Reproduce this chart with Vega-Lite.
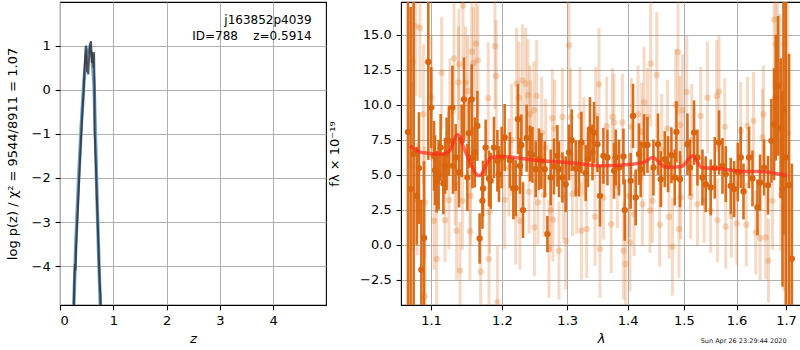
{
  "$schema": "https://vega.github.io/schema/vega-lite/v6.json",
  "background": "white",
  "padding": {"left": 5, "top": 1, "right": 0, "bottom": 0},
  "spacing": 1,
  "config": {
    "font": "DejaVu Sans",
    "view": {"stroke": "black", "strokeWidth": 1.1},
    "axis": {
      "labelFont": "DejaVu Sans", "titleFont": "DejaVu Sans",
      "labelFontSize": 13, "titleFontSize": 13,
      "labelColor": "black", "titleColor": "black", "titleFontWeight": "normal",
      "grid": true, "gridColor": "#b0b0b0", "gridWidth": 1,
      "domain": false, "tickColor": "black", "tickSize": 4.9, "tickWidth": 1.1,
      "labelPadding": 4.9
    }
  },
  "datasets": {
    "pz_blue": [
      {"z": 0.25, "v": -5.2}, {"z": 0.30, "v": -3.4}, {"z": 0.35, "v": -2.0}, {"z": 0.40, "v": -0.8},
      {"z": 0.45, "v": 0.2}, {"z": 0.50, "v": 0.8}, {"z": 0.55, "v": 0.95}, {"z": 0.60, "v": 0.75},
      {"z": 0.64, "v": 0.1}, {"z": 0.67, "v": -1.3}, {"z": 0.70, "v": -2.7}, {"z": 0.73, "v": -3.9}, {"z": 0.765, "v": -5.2}
    ],
    "pz_dark": [
      {"z": 0.255, "v": -5.2}, {"z": 0.27, "v": -4.3}, {"z": 0.28, "v": -3.95}, {"z": 0.29, "v": -4.1},
      {"z": 0.30, "v": -3.6}, {"z": 0.33, "v": -2.8}, {"z": 0.36, "v": -2.0}, {"z": 0.39, "v": -1.2},
      {"z": 0.42, "v": -0.5}, {"z": 0.445, "v": 0.0}, {"z": 0.46, "v": 0.5}, {"z": 0.48, "v": 0.95},
      {"z": 0.49, "v": 1.0}, {"z": 0.50, "v": 0.7}, {"z": 0.51, "v": 0.4}, {"z": 0.52, "v": 0.5},
      {"z": 0.53, "v": 0.35}, {"z": 0.54, "v": 0.6}, {"z": 0.555, "v": 0.9}, {"z": 0.57, "v": 1.05},
      {"z": 0.58, "v": 1.1}, {"z": 0.59, "v": 0.9}, {"z": 0.60, "v": 0.6}, {"z": 0.61, "v": 0.85},
      {"z": 0.62, "v": 0.8}, {"z": 0.63, "v": 0.5}, {"z": 0.64, "v": 0.85}, {"z": 0.645, "v": 0.3},
      {"z": 0.65, "v": -0.9}, {"z": 0.67, "v": -1.6}, {"z": 0.69, "v": -2.4}, {"z": 0.71, "v": -3.1},
      {"z": 0.73, "v": -3.9}, {"z": 0.745, "v": -4.4}, {"z": 0.755, "v": -4.6}, {"z": 0.77, "v": -5.2}
    ],
    "labels_left": [
      {"z": 4.72, "v": 1.575, "t": "j163852p4039"},
      {"z": 4.72, "v": 1.21, "t": "ID=788\u00a0\u00a0\u00a0\u00a0z=0.5914"}
    ],
    "stamp": [
      {"l": 1.614, "f": -6.9, "t": "Sun Apr 26 23:29:44 2020"}
    ],
    "model": [
      {"l": 1.0720, "f": 7.07}, {"l": 1.0875, "f": 6.6}, {"l": 1.1145, "f": 6.48}, {"l": 1.1250, "f": 6.7},
      {"l": 1.1362, "f": 7.86}, {"l": 1.1480, "f": 6.6}, {"l": 1.1667, "f": 4.93}, {"l": 1.1850, "f": 6.24},
      {"l": 1.1996, "f": 6.31}, {"l": 1.2496, "f": 6.05}, {"l": 1.3019, "f": 5.88}, {"l": 1.3561, "f": 5.64},
      {"l": 1.4069, "f": 5.76}, {"l": 1.4273, "f": 5.88}, {"l": 1.4431, "f": 6.24}, {"l": 1.4686, "f": 5.52},
      {"l": 1.4959, "f": 5.6}, {"l": 1.5162, "f": 6.36}, {"l": 1.5330, "f": 5.52}, {"l": 1.5774, "f": 5.4},
      {"l": 1.6101, "f": 5.24}, {"l": 1.6434, "f": 5.24}, {"l": 1.7015, "f": 4.93}
    ],
    "dark": [
      {"l": 1.0694, "f": 8.07, "e": 14}, {"l": 1.0729, "f": 4.0, "e": 13}, {"l": 1.0769, "f": 6.5, "e": 12},
      {"l": 1.0809, "f": 3.5, "e": 3.5}, {"l": 1.0839, "f": 5.48, "e": 4}, {"l": 1.0871, "f": -1.79, "e": 5},
      {"l": 1.0906, "f": 0.48, "e": 5.5}, {"l": 1.0964, "f": 13.07, "e": 7}, {"l": 1.1004, "f": 9.81, "e": 2.9},
      {"l": 1.1041, "f": 6.36, "e": 2.5}, {"l": 1.1055, "f": 5.33, "e": 2.5}, {"l": 1.1077, "f": 4.5, "e": 2.2},
      {"l": 1.1104, "f": 5.0, "e": 2.5}, {"l": 1.1131, "f": 6.95, "e": 2.4}, {"l": 1.1168, "f": 4.38, "e": 2.2},
      {"l": 1.1190, "f": 5.64, "e": 2.0}, {"l": 1.1213, "f": 6.5, "e": 2.6}, {"l": 1.1245, "f": 7.43, "e": 2.5},
      {"l": 1.1293, "f": 9.81, "e": 3.0}, {"l": 1.1301, "f": 5.64, "e": 2.0}, {"l": 1.1338, "f": 6.24, "e": 2.4},
      {"l": 1.1384, "f": 5.17, "e": 2.5}, {"l": 1.1422, "f": 7.43, "e": 2.6}, {"l": 1.1454, "f": 10.4, "e": 3.0},
      {"l": 1.1502, "f": 4.81, "e": 2.4}, {"l": 1.1524, "f": 7.98, "e": 2.5}, {"l": 1.1563, "f": 10.4, "e": 2.5},
      {"l": 1.1573, "f": 6.24, "e": 2.2}, {"l": 1.1606, "f": 6.6, "e": 2.5}, {"l": 1.1644, "f": 8.5, "e": 2.5},
      {"l": 1.1676, "f": 0.45, "e": 1.8}, {"l": 1.1716, "f": 3.14, "e": 2.0}, {"l": 1.1725, "f": 4.02, "e": 2.0},
      {"l": 1.1763, "f": 6.95, "e": 2.0}, {"l": 1.1811, "f": 4.74, "e": 2.0}, {"l": 1.1835, "f": 4.57, "e": 2.0},
      {"l": 1.1883, "f": 6.95, "e": 2.2}, {"l": 1.1933, "f": 6.0, "e": 2.2}, {"l": 1.1956, "f": 5.05, "e": 2.0},
      {"l": 1.1996, "f": 6.24, "e": 2.2}, {"l": 1.2040, "f": 7.67, "e": 2.4}, {"l": 1.2118, "f": 6.05, "e": 2.0},
      {"l": 1.2169, "f": 4.02, "e": 2.2}, {"l": 1.2204, "f": 4.05, "e": 2.0}, {"l": 1.2238, "f": 8.98, "e": 2.5},
      {"l": 1.2268, "f": 5.64, "e": 2.0}, {"l": 1.2289, "f": 7.12, "e": 2.2}, {"l": 1.2314, "f": 2.48, "e": 2.0},
      {"l": 1.2369, "f": 7.62, "e": 2.4}, {"l": 1.2419, "f": 6.52, "e": 2.0}, {"l": 1.2457, "f": 6.43, "e": 2.0},
      {"l": 1.2507, "f": 5.4, "e": 2.0}, {"l": 1.2557, "f": 6.12, "e": 2.2}, {"l": 1.2594, "f": 6.0, "e": 2.0},
      {"l": 1.2646, "f": 5.4, "e": 2.0}, {"l": 1.2688, "f": 0.76, "e": 1.3}, {"l": 1.2739, "f": 4.81, "e": 2.0},
      {"l": 1.2791, "f": 5.6, "e": 2.0}, {"l": 1.2844, "f": 6.36, "e": 2.2}, {"l": 1.2869, "f": 5.4, "e": 2.0},
      {"l": 1.2924, "f": 4.81, "e": 1.8}, {"l": 1.2976, "f": 4.33, "e": 2.0}, {"l": 1.3029, "f": 6.6, "e": 2.0},
      {"l": 1.3072, "f": 7.48, "e": 2.2}, {"l": 1.3136, "f": 5.45, "e": 2.0}, {"l": 1.3189, "f": 5.45, "e": 2.0},
      {"l": 1.3228, "f": 7.31, "e": 2.2}, {"l": 1.3298, "f": 5.12, "e": 2.0}, {"l": 1.3335, "f": 6.12, "e": 2.0},
      {"l": 1.3368, "f": 8.26, "e": 2.3}, {"l": 1.3409, "f": 6.6, "e": 2.0}, {"l": 1.3435, "f": 8.02, "e": 2.2},
      {"l": 1.3491, "f": 7.19, "e": 2.0}, {"l": 1.3533, "f": 3.5, "e": 2.2}, {"l": 1.3590, "f": 6.36, "e": 2.0},
      {"l": 1.3657, "f": 6.24, "e": 2.0}, {"l": 1.3768, "f": 5.29, "e": 2.0}, {"l": 1.3796, "f": 6.24, "e": 2.0},
      {"l": 1.3852, "f": 5.52, "e": 2.0}, {"l": 1.3928, "f": 6.31, "e": 2.0}, {"l": 1.3950, "f": 2.48, "e": 2.2},
      {"l": 1.4052, "f": 4.57, "e": 2.0}, {"l": 1.4092, "f": 9.21, "e": 2.3}, {"l": 1.4139, "f": 3.38, "e": 2.0},
      {"l": 1.4196, "f": 6.48, "e": 2.2}, {"l": 1.4225, "f": 5.4, "e": 2.0}, {"l": 1.4284, "f": 7.14, "e": 2.2},
      {"l": 1.4344, "f": 7.14, "e": 2.0}, {"l": 1.4450, "f": 5.52, "e": 2.0}, {"l": 1.4531, "f": 7.19, "e": 2.2},
      {"l": 1.4579, "f": 4.69, "e": 2.0}, {"l": 1.4652, "f": 6.12, "e": 2.0}, {"l": 1.4711, "f": 5.76, "e": 2.0},
      {"l": 1.4772, "f": 6.4, "e": 2.0}, {"l": 1.4832, "f": 4.81, "e": 2.0}, {"l": 1.4863, "f": 8.07, "e": 2.2},
      {"l": 1.4928, "f": 4.69, "e": 2.0}, {"l": 1.5065, "f": 7.19, "e": 2.2}, {"l": 1.5112, "f": 5.52, "e": 2.0},
      {"l": 1.5188, "f": 8.02, "e": 2.3}, {"l": 1.5251, "f": 6.24, "e": 2.0}, {"l": 1.5345, "f": 4.81, "e": 2.0},
      {"l": 1.5407, "f": 4.33, "e": 2.0}, {"l": 1.5501, "f": 4.1, "e": 2.0}, {"l": 1.5578, "f": 5.5, "e": 2.2},
      {"l": 1.5660, "f": 7.31, "e": 2.3}, {"l": 1.5727, "f": 5.64, "e": 2.0}, {"l": 1.5790, "f": 5.05, "e": 2.0},
      {"l": 1.5886, "f": 4.21, "e": 2.0}, {"l": 1.5952, "f": 3.98, "e": 2.0}, {"l": 1.6024, "f": 5.2, "e": 2.1},
      {"l": 1.6082, "f": 6.24, "e": 2.2}, {"l": 1.6137, "f": 3.81, "e": 2.0}, {"l": 1.6247, "f": 6.24, "e": 2.2},
      {"l": 1.6316, "f": 4.74, "e": 2.0}, {"l": 1.6416, "f": 2.67, "e": 2.0}, {"l": 1.6468, "f": 4.45, "e": 2.0},
      {"l": 1.6550, "f": 5.52, "e": 2.0}, {"l": 1.6630, "f": 4.26, "e": 2.1}, {"l": 1.6699, "f": 7.43, "e": 3.0},
      {"l": 1.6754, "f": 8.62, "e": 4.0}, {"l": 1.6789, "f": 10.52, "e": 4.5}, {"l": 1.6836, "f": 11.36, "e": 5.0},
      {"l": 1.6891, "f": 8.33, "e": 5.0}, {"l": 1.6928, "f": 4.0, "e": 7.0}, {"l": 1.6948, "f": 9.69, "e": 9.0},
      {"l": 1.6996, "f": 6.24, "e": 14}, {"l": 1.7064, "f": 4.26, "e": 9.4}, {"l": 1.7122, "f": -1.0, "e": 6.8}
    ],
    "light": [
      {"l": 1.0752, "f": 5.64, "e": 6}, {"l": 1.0760, "f": 13.07, "e": 6}, {"l": 1.0796, "f": 15.64, "e": 5},
      {"l": 1.0818, "f": 3.26, "e": 4}, {"l": 1.0852, "f": 15.5, "e": 5}, {"l": 1.0898, "f": 9.33, "e": 5},
      {"l": 1.0915, "f": 3.02, "e": 4}, {"l": 1.0919, "f": -3.69, "e": 4}, {"l": 1.1004, "f": 10.52, "e": 4.5},
      {"l": 1.1041, "f": 1.71, "e": 3.5}, {"l": 1.1077, "f": -1.02, "e": 3.5}, {"l": 1.1145, "f": 12.3, "e": 4},
      {"l": 1.1190, "f": 1.76, "e": 3}, {"l": 1.1245, "f": 3.19, "e": 3.5}, {"l": 1.1258, "f": 9.33, "e": 4},
      {"l": 1.1315, "f": 13.33, "e": 4}, {"l": 1.1329, "f": 4.38, "e": 3}, {"l": 1.1352, "f": 1.0, "e": 3.5},
      {"l": 1.1376, "f": 11.6, "e": 4}, {"l": 1.1384, "f": 12.9, "e": 4}, {"l": 1.1398, "f": -1.86, "e": 3.5},
      {"l": 1.1432, "f": 3.14, "e": 3.5}, {"l": 1.1440, "f": 17.1, "e": 4.5}, {"l": 1.1478, "f": 11.6, "e": 4},
      {"l": 1.1510, "f": 11.0, "e": 4}, {"l": 1.1538, "f": 0.95, "e": 3.5}, {"l": 1.1548, "f": 3.5, "e": 3.5},
      {"l": 1.1563, "f": 13.8, "e": 4}, {"l": 1.1587, "f": 12.98, "e": 4}, {"l": 1.1624, "f": 14.38, "e": 4},
      {"l": 1.1652, "f": 13.19, "e": 4}, {"l": 1.1691, "f": -1.93, "e": 3}, {"l": 1.1800, "f": 10.48, "e": 4},
      {"l": 1.1811, "f": -1.02, "e": 3.5}, {"l": 1.1821, "f": 2.36, "e": 3}, {"l": 1.1898, "f": 14.2, "e": 4.5},
      {"l": 1.1915, "f": 12.07, "e": 4}, {"l": 1.1933, "f": -4.1, "e": 4}, {"l": 1.2040, "f": 3.21, "e": 3.5},
      {"l": 1.2103, "f": 5.52, "e": 3.5}, {"l": 1.2144, "f": 7.5, "e": 4}, {"l": 1.2204, "f": 2.07, "e": 3.5},
      {"l": 1.2218, "f": 11.52, "e": 4}, {"l": 1.2253, "f": 10.52, "e": 4}, {"l": 1.2268, "f": 1.71, "e": 3.5},
      {"l": 1.2305, "f": 11.76, "e": 4}, {"l": 1.2354, "f": 11.52, "e": 4}, {"l": 1.2389, "f": 10.69, "e": 4},
      {"l": 1.2404, "f": 3.79, "e": 3}, {"l": 1.2419, "f": 9.33, "e": 3.5}, {"l": 1.2430, "f": 8.26, "e": 3.5},
      {"l": 1.2481, "f": 9.62, "e": 3.5}, {"l": 1.2488, "f": 1.24, "e": 3.5}, {"l": 1.2522, "f": 10.64, "e": 4},
      {"l": 1.2542, "f": 3.02, "e": 3}, {"l": 1.2600, "f": 8.0, "e": 4}, {"l": 1.2636, "f": 3.55, "e": 3},
      {"l": 1.2662, "f": 6.95, "e": 3.5}, {"l": 1.2713, "f": -0.31, "e": 3.5}, {"l": 1.2739, "f": 2.48, "e": 3},
      {"l": 1.2766, "f": 9.05, "e": 3.5}, {"l": 1.2775, "f": 1.79, "e": 3}, {"l": 1.2802, "f": 8.31, "e": 3.5},
      {"l": 1.2869, "f": -0.43, "e": 3.5}, {"l": 1.2924, "f": 9.14, "e": 3.5}, {"l": 1.2937, "f": 3.38, "e": 3},
      {"l": 1.2976, "f": 0.29, "e": 3.5}, {"l": 1.3029, "f": 14.26, "e": 4.5}, {"l": 1.3055, "f": 9.1, "e": 3.5},
      {"l": 1.3083, "f": 3.62, "e": 3}, {"l": 1.3152, "f": 3.79, "e": 3}, {"l": 1.3205, "f": 9.21, "e": 3.5},
      {"l": 1.3228, "f": 1.0, "e": 3.5}, {"l": 1.3270, "f": 7.07, "e": 3.5}, {"l": 1.3314, "f": 1.12, "e": 3.5},
      {"l": 1.3451, "f": 2.0, "e": 3.5}, {"l": 1.3463, "f": 9.21, "e": 3.5}, {"l": 1.3517, "f": 11.48, "e": 4},
      {"l": 1.3533, "f": -0.31, "e": 3.5}, {"l": 1.3590, "f": 3.38, "e": 3}, {"l": 1.3645, "f": 8.5, "e": 3.5},
      {"l": 1.3720, "f": 1.48, "e": 3.5}, {"l": 1.3741, "f": 9.14, "e": 3.5}, {"l": 1.3768, "f": 8.74, "e": 3.5},
      {"l": 1.3825, "f": 4.21, "e": 3}, {"l": 1.3911, "f": 8.74, "e": 3.5}, {"l": 1.3928, "f": -0.43, "e": 3.5},
      {"l": 1.3967, "f": -1.38, "e": 3.5}, {"l": 1.4023, "f": 3.5, "e": 3}, {"l": 1.4040, "f": 0.17, "e": 3.5},
      {"l": 1.4064, "f": 8.43, "e": 3.5}, {"l": 1.4110, "f": 2.19, "e": 3}, {"l": 1.4179, "f": 9.33, "e": 3.5},
      {"l": 1.4244, "f": 8.1, "e": 3.5}, {"l": 1.4256, "f": 2.9, "e": 3}, {"l": 1.4284, "f": 10.17, "e": 4},
      {"l": 1.4344, "f": 9.14, "e": 3.5}, {"l": 1.4389, "f": 2.43, "e": 3}, {"l": 1.4401, "f": 12.95, "e": 4.5},
      {"l": 1.4432, "f": 3.14, "e": 3}, {"l": 1.4508, "f": 12.14, "e": 4.5}, {"l": 1.4561, "f": 1.43, "e": 3},
      {"l": 1.4598, "f": 6.8, "e": 4}, {"l": 1.4700, "f": 8.31, "e": 3.5}, {"l": 1.4729, "f": 2.0, "e": 3},
      {"l": 1.4791, "f": -0.14, "e": 3.5}, {"l": 1.4850, "f": 10.0, "e": 4}, {"l": 1.4892, "f": 13.79, "e": 4.5},
      {"l": 1.4910, "f": 1.12, "e": 3.5}, {"l": 1.4928, "f": 8.57, "e": 3.5}, {"l": 1.4941, "f": 3.38, "e": 3},
      {"l": 1.4973, "f": 9.62, "e": 4}, {"l": 1.5052, "f": 10.93, "e": 4}, {"l": 1.5125, "f": 3.43, "e": 3},
      {"l": 1.5145, "f": 7.5, "e": 4}, {"l": 1.5251, "f": 2.9, "e": 3}, {"l": 1.5312, "f": 9.21, "e": 3.5},
      {"l": 1.5375, "f": 3.14, "e": 3}, {"l": 1.5439, "f": 10.52, "e": 4}, {"l": 1.5501, "f": 2.43, "e": 3},
      {"l": 1.5616, "f": 10.64, "e": 4}, {"l": 1.5629, "f": 1.76, "e": 3}, {"l": 1.5660, "f": 10.95, "e": 4},
      {"l": 1.5771, "f": 8.43, "e": 3.5}, {"l": 1.5790, "f": 1.29, "e": 3}, {"l": 1.5900, "f": 2.07, "e": 3},
      {"l": 1.6005, "f": 1.52, "e": 3}, {"l": 1.6082, "f": 8.14, "e": 3.5}, {"l": 1.6192, "f": 1.43, "e": 3},
      {"l": 1.6216, "f": 8.5, "e": 3.5}, {"l": 1.6336, "f": 8.86, "e": 3.5}, {"l": 1.6382, "f": 0.88, "e": 3},
      {"l": 1.6468, "f": 0.48, "e": 3}, {"l": 1.6517, "f": 7.67, "e": 3.5}, {"l": 1.6537, "f": 9.33, "e": 3.5},
      {"l": 1.6584, "f": 0.52, "e": 3}, {"l": 1.6639, "f": -1.14, "e": 3}, {"l": 1.6721, "f": 3.14, "e": 3.5},
      {"l": 1.6754, "f": 16.1, "e": 5}, {"l": 1.6789, "f": 14.33, "e": 5}, {"l": 1.6830, "f": 12.5, "e": 5},
      {"l": 1.6871, "f": 11.5, "e": 5}, {"l": 1.6891, "f": 3.57, "e": 4}, {"l": 1.6948, "f": 2.71, "e": 6},
      {"l": 1.6975, "f": 14.38, "e": 6}, {"l": 1.7037, "f": 8.0, "e": 14}
    ]
  },
  "hconcat": [
    {
      "width": 266, "height": 303,
      "layer": [
        {
          "data": {"name": "pz_blue"},
          "mark": {"type": "line", "color": "#6ba3d0", "strokeWidth": 3.5, "clip": true},
          "encoding": {
            "x": {"field": "z", "type": "quantitative", "title": "z", "scale": {"domain": [0, 4.99], "nice": false, "zero": false},
                  "axis": {"values": [0, 1, 2, 3, 4], "format": "d", "titleFontStyle": "italic", "titlePadding": 5}},
            "y": {"field": "v", "type": "quantitative", "title": "log p(z) / χ² = 9544/8911 = 1.07", "scale": {"domain": [-4.88, 1.99], "nice": false, "zero": false},
                  "axis": {"values": [-4, -3, -2, -1, 0, 1], "format": "d", "titlePadding": 12}}
          }
        },
        {
          "data": {"name": "pz_dark"},
          "mark": {"type": "line", "color": "#2b2b2b", "opacity": 0.8, "strokeWidth": 2, "clip": true},
          "encoding": {
            "x": {"field": "z", "type": "quantitative", "title": "z", "scale": {"domain": [0, 4.99], "nice": false, "zero": false}},
            "y": {"field": "v", "type": "quantitative", "title": "log p(z) / χ² = 9544/8911 = 1.07", "scale": {"domain": [-4.88, 1.99], "nice": false, "zero": false}}
          }
        },
        {
          "data": {"name": "labels_left"},
          "mark": {"type": "text", "align": "right", "baseline": "middle", "fontSize": 12, "font": "DejaVu Sans", "color": "black"},
          "encoding": {
            "x": {"field": "z", "type": "quantitative", "title": "z", "scale": {"domain": [0, 4.99], "nice": false, "zero": false}},
            "y": {"field": "v", "type": "quantitative", "title": "log p(z) / χ² = 9544/8911 = 1.07", "scale": {"domain": [-4.88, 1.99], "nice": false, "zero": false}},
            "text": {"field": "t"}
          }
        }
      ]
    },
    {
      "width": 400, "height": 303,
      "layer": [
        {
          "data": {"name": "light"},
          "mark": {"type": "errorbar", "thickness": 3, "color": "#e07a2e", "opacity": 0.28, "clip": true},
          "encoding": {
            "x": {"field": "l", "type": "quantitative", "title": "λ", "scale": {"type": "log", "domain": [1.0603, 1.7316], "nice": false, "zero": false},
                  "axis": {"values": [1.1, 1.2, 1.3, 1.4, 1.5, 1.6, 1.7], "format": ".1f", "titleFontStyle": "italic", "titlePadding": 5}},
            "y": {"field": "f", "type": "quantitative", "title": "fλ × 10⁻¹⁹", "scale": {"domain": [-4.31, 17.36], "nice": false, "zero": false},
                  "axis": {"values": [-2.5, 0, 2.5, 5, 7.5, 10, 12.5, 15], "format": ".1f", "titlePadding": 18}},
            "yError": {"field": "e"}
          }
        },
        {
          "data": {"name": "light"},
          "mark": {"type": "circle", "size": 40, "color": "#e07a2e", "opacity": 0.3, "clip": true},
          "encoding": {
            "x": {"field": "l", "type": "quantitative", "title": "λ", "scale": {"type": "log", "domain": [1.0603, 1.7316], "nice": false, "zero": false}},
            "y": {"field": "f", "type": "quantitative", "title": "fλ × 10⁻¹⁹", "scale": {"domain": [-4.31, 17.36], "nice": false, "zero": false}}
          }
        },
        {
          "data": {"name": "dark"},
          "mark": {"type": "errorbar", "thickness": 2.6, "color": "#d9660f", "opacity": 0.95, "clip": true},
          "encoding": {
            "x": {"field": "l", "type": "quantitative", "title": "λ", "scale": {"type": "log", "domain": [1.0603, 1.7316], "nice": false, "zero": false}},
            "y": {"field": "f", "type": "quantitative", "title": "fλ × 10⁻¹⁹", "scale": {"domain": [-4.31, 17.36], "nice": false, "zero": false}},
            "yError": {"field": "e"}
          }
        },
        {
          "data": {"name": "dark"},
          "mark": {"type": "circle", "size": 40, "color": "#d9660f", "opacity": 1, "clip": true},
          "encoding": {
            "x": {"field": "l", "type": "quantitative", "title": "λ", "scale": {"type": "log", "domain": [1.0603, 1.7316], "nice": false, "zero": false}},
            "y": {"field": "f", "type": "quantitative", "title": "fλ × 10⁻¹⁹", "scale": {"domain": [-4.31, 17.36], "nice": false, "zero": false}}
          }
        },
        {
          "data": {"name": "model"},
          "mark": {"type": "line", "color": "#ff2a1a", "opacity": 0.7, "strokeWidth": 3.5, "interpolate": "monotone", "clip": true},
          "encoding": {
            "x": {"field": "l", "type": "quantitative", "title": "λ", "scale": {"type": "log", "domain": [1.0603, 1.7316], "nice": false, "zero": false}},
            "y": {"field": "f", "type": "quantitative", "title": "fλ × 10⁻¹⁹", "scale": {"domain": [-4.31, 17.36], "nice": false, "zero": false}}
          }
        },
        {
          "mark": {"type": "rule", "color": "black", "strokeWidth": 2, "strokeDash": [2, 2.4]},
          "encoding": {"y": {"datum": 0, "type": "quantitative"}}
        },
        {
          "data": {"name": "stamp"},
          "mark": {"type": "text", "align": "center", "baseline": "middle", "fontSize": 6.5, "font": "DejaVu Sans", "color": "#222222", "clip": false},
          "encoding": {
            "x": {"field": "l", "type": "quantitative", "title": "λ", "scale": {"type": "log", "domain": [1.0603, 1.7316], "nice": false, "zero": false}},
            "y": {"field": "f", "type": "quantitative", "title": "fλ × 10⁻¹⁹", "scale": {"domain": [-4.31, 17.36], "nice": false, "zero": false}},
            "text": {"field": "t"}
          }
        }
      ]
    }
  ]
}
